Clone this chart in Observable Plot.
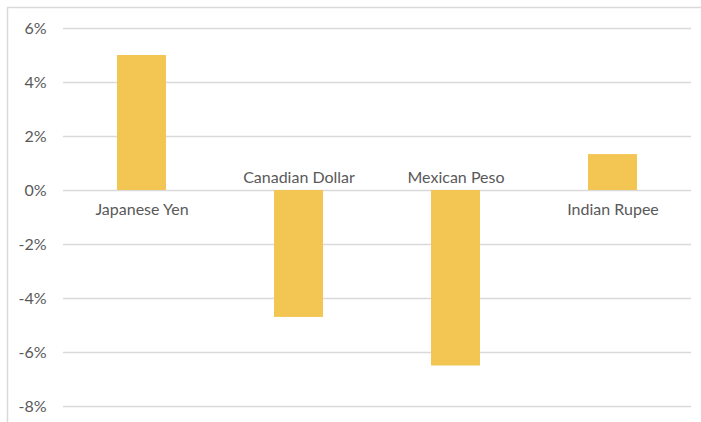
<!DOCTYPE html>
<html>
<head>
<meta charset="utf-8">
<script src="https://cdn.jsdelivr.net/npm/d3@7"></script>
<script src="https://cdn.jsdelivr.net/npm/@observablehq/plot@0.6"></script>
<style>
  html, body { margin: 0; padding: 0; background: #fff; }
  #chart { width: 701px; height: 422px; }
</style>
</head>
<body>
<div id="chart"></div>
<script>
const currencies = ["Japanese Yen", "Canadian Dollar", "Mexican Peso", "Indian Rupee"];
const changes = [5.0, -4.7, -6.5, 1.33];
const yTicks = [6, 4, 2, 0, -2, -4, -6, -8];

const data = currencies.map((c, i) => ({currency: c, change: changes[i]}));
const font = "Lato, 'Open Sans', sans-serif";
const textColor = "#595959";

const chart = Plot.plot({
  width: 701,
  height: 422,
  marginLeft: 63,
  marginRight: 10,
  marginTop: 28,
  marginBottom: 16,
  style: {fontFamily: font, fontSize: "16px", color: textColor, background: "#fff"},
  x: {domain: currencies, paddingInner: 0.69, paddingOuter: 0.345, axis: null},
  y: {domain: [-8, 6], ticks: yTicks, tickFormat: d => d + "%", tickSize: 0, tickPadding: 17, label: null},
  marks: [
    Plot.gridY(yTicks, {stroke: "#d9d9d9", strokeOpacity: 1, strokeWidth: 1.5}),
    Plot.barY(data, {x: "currency", y: "change", fill: "#F3C552"}),
    Plot.text(data.filter(d => d.change >= 0), {x: "currency", y: 0, text: "currency", dy: 19, fill: textColor, fontSize: 16}),
    Plot.text(data.filter(d => d.change < 0), {x: "currency", y: 0, text: "currency", dy: -13, fill: textColor, fontSize: 16})
  ]
});

const svg = d3.select(chart);
svg.select("g[aria-label='y-axis tick label']").attr("fill", textColor);
svg.append("path")
  .attr("d", "M7.5,422V7.5H701")
  .attr("fill", "none")
  .attr("stroke", "#d9d9d9")
  .attr("stroke-width", 1.5);

document.getElementById("chart").appendChild(chart);
</script>
</body>
</html>
